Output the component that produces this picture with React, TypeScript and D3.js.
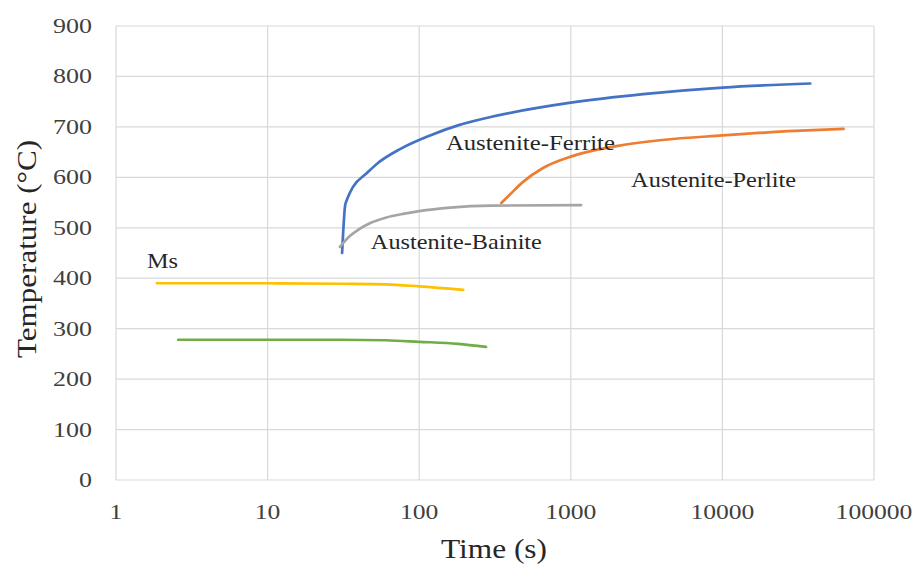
import React from "react";
import * as d3 from "d3";

const xTicks = [1, 10, 100, 1000, 10000, 100000];
const yTicks = [0, 100, 200, 300, 400, 500, 600, 700, 800, 900];

const ferriteT = [31, 32.5, 33.4, 36.6, 45, 52.7, 74.8, 118, 180, 300, 1000, 3000, 10000, 38000];
const ferriteV = [450, 545, 556, 581, 608, 627, 656, 683, 703, 720, 748, 765, 778, 786];

const perliteT = [348, 400, 480, 660, 1000, 1400, 2000, 4000, 10000, 30000, 63000];
const perliteV = [549, 567, 590, 619, 641, 653, 662, 674, 683, 692, 696];

const bainiteT = [30, 32, 35, 40, 48, 60, 80, 100, 160, 300, 1170];
const bainiteV = [462, 472, 484, 497, 510, 520, 528, 533, 540, 544, 545];

const msT = [1.86, 10, 30, 60, 100, 195];
const msV = [390, 390, 389, 388, 384, 377];

const mfT = [2.57, 10, 30, 60, 100, 180, 276];
const mfV = [278, 278, 278, 277, 274, 270, 264];

const seriesColors = ["#4472C4", "#ED7D31", "#A5A5A5", "#FFC000", "#70AD47"];

const labelTexts = ["Austenite-Ferrite", "Austenite-Perlite", "Austenite-Bainite", "Ms"];
const labelT = [150, 2500, 48, 1.6];
const labelV = [655, 580, 457, 420];
const labelWidths = [169, 165, 171, 31];

export default function App() {
  const W = 916, H = 569;
  const x = d3.scaleLog().domain([1, 100000]).range([116, 874]);
  const y = d3.scaleLinear().domain([0, 900]).range([480, 26]);
  const font = "'Liberation Serif', 'Times New Roman', serif";

  const series = [
    [ferriteT, ferriteV],
    [perliteT, perliteV],
    [bainiteT, bainiteV],
    [msT, msV],
    [mfT, mfV],
  ];
  const line = d3
    .line<[number, number]>()
    .x((d) => x(d[0]))
    .y((d) => y(d[1]))
    .curve(d3.curveMonotoneX);

  return (
    <svg width={W} height={H} style={{ position: "absolute", left: 0, top: 0, background: "#fff" }}>
      <rect x={0} y={0} width={W} height={H} fill="#fff" />
      {yTicks.map((v) => (
        <line key={"gy" + v} x1={x(1)} x2={x(100000)} y1={y(v)} y2={y(v)} stroke="#d9d9d9" strokeWidth={1.2} />
      ))}
      {xTicks.map((v) => (
        <line key={"gx" + v} x1={x(v)} x2={x(v)} y1={y(0)} y2={y(900)} stroke="#d9d9d9" strokeWidth={1.2} />
      ))}
      {yTicks.map((v) => (
        <text key={"ty" + v} x={92} y={y(v) + 7} textAnchor="end" fontFamily={font} fontSize={22} fill="#404040"
          textLength={v === 0 ? 13 : 39} lengthAdjust="spacingAndGlyphs">
          {v}
        </text>
      ))}
      {xTicks.map((v) => (
        <text key={"tx" + v} x={x(v)} y={519} textAnchor="middle" fontFamily={font} fontSize={22} fill="#404040"
          textLength={String(v).length * 12.8} lengthAdjust="spacingAndGlyphs">
          {v}
        </text>
      ))}
      <text x={494} y={558} textAnchor="middle" fontFamily={font} fontSize={27} fill="#262626"
        textLength={106} lengthAdjust="spacingAndGlyphs">
        Time (s)
      </text>
      <text transform="translate(36,249) rotate(-90)" textAnchor="middle" fontFamily={font} fontSize={27} fill="#262626"
        textLength={218} lengthAdjust="spacingAndGlyphs">
        Temperature (°C)
      </text>
      {series.map(([ts, vs], i) => (
        <path key={"s" + i} d={line(ts.map((t, j) => [t, vs[j]] as [number, number])) || ""} fill="none"
          stroke={seriesColors[i]} strokeWidth={2.7} strokeLinecap="round" />
      ))}
      {labelTexts.map((s, i) => (
        <text key={"l" + i} x={x(labelT[i])} y={y(labelV[i])} fontFamily={font} fontSize={22} fill="#262626"
          textLength={labelWidths[i]} lengthAdjust="spacingAndGlyphs">
          {s}
        </text>
      ))}
    </svg>
  );
}
